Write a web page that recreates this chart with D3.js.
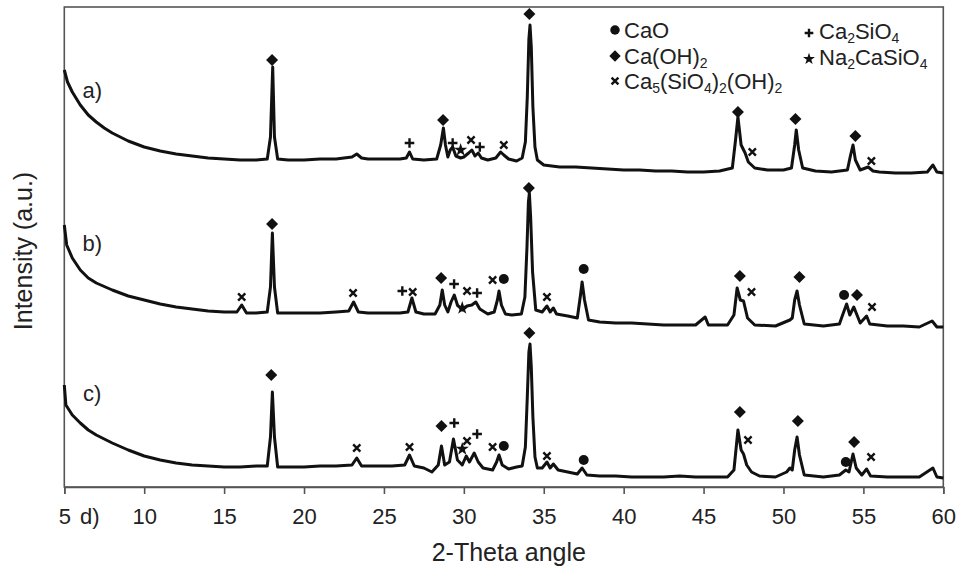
<!DOCTYPE html>
<html>
<head>
<meta charset="utf-8">
<script src="https://cdn.jsdelivr.net/npm/d3@7"></script>
<style>
  html, body { margin: 0; padding: 0; background: #fff; }
  svg { display: block; font-family: "Liberation Sans", Arial, sans-serif; }
</style>
</head>
<body>
<svg id="chart" width="962" height="572"></svg>
<script>
// ---------- DATA (2-theta angle in degrees, intensity in a.u.) ----------
const xTicks = [5, 10, 15, 20, 25, 30, 35, 40, 45, 50, 55, 60];

const traceA = [
  [5.0,417],[5.2,405],[5.5,395],[6.0,382],[6.5,372],[7.0,365],[7.5,359],[8.0,354],[9.0,346],[10.0,340],
  [11.0,336],[12.0,333],[13.0,331],[14.0,329],[15.0,328],[16.0,327],[17.0,327],[17.7,328],[17.9,350],[18.04,420],
  [18.15,350],[18.35,328],[19,327],[20,327],[21,328],[22,328],[23,330],[23.3,333],[23.6,329],[24,328],
  [25,328],[26,328],[26.4,329],[26.6,335],[26.8,328],[27.5,327],[28.3,328],[28.55,342],[28.72,359],[28.85,342],
  [29.0,330],[29.15,337],[29.3,340],[29.5,331],[29.8,329],[30.0,330],[30.3,334],[30.5,337],[30.7,331],[30.9,334],
  [31.1,329],[31.5,327],[32.0,329],[32.3,335],[32.5,332],[32.8,328],[33.3,326],[33.65,329],[33.85,345],[33.97,390],
  [34.07,448],[34.14,462],[34.22,440],[34.32,380],[34.45,340],[34.6,327],[35,322],[36,320],[37,320],[38,319],
  [39,318],[40,317],[41,317],[42,316],[43,316],[44,315],[45,315],[46,316],[46.8,319],[47.0,347],
  [47.15,370],[47.35,342],[47.6,334],[47.8,325],[48.2,319],[49,317],[50,317],[50.5,319],[50.7,342],[50.8,357],
  [50.95,337],[51.2,319],[52,316],[53,315],[54.0,317],[54.2,332],[54.35,342],[54.5,327],[54.8,317],[55.3,320],
  [55.6,316],[56,315],[57,314],[58,314],[59.0,315],[59.35,322],[59.6,315],[60,314]
];

const traceB = [
  [5.0,262],[5.15,242],[5.5,229],[6.0,217],[6.5,209],[7.0,204],[8.0,197],[9.0,191],[10.0,187],[11.0,183],
  [12.0,180],[13.0,178],[14.0,176],[15.0,175],[15.8,175],[16.1,182],[16.4,174],[17.0,174],[17.7,175],[17.9,200],
  [18.02,254],[18.15,200],[18.35,174],[19,174],[20,174],[21,174],[22,175],[22.8,176],[23.1,185],[23.4,175],
  [24,174],[25,174],[26,174],[26.5,175],[26.75,189],[27.0,175],[27.5,173],[28.2,173],[28.5,182],[28.65,197],
  [28.8,182],[29.0,175],[29.2,185],[29.4,192],[29.6,182],[29.9,177],[30.2,181],[30.5,182],[30.75,185],[31.0,178],
  [31.5,173],[31.9,175],[32.1,187],[32.2,196],[32.35,182],[32.6,173],[33.0,172],[33.6,173],[33.82,190],[33.95,240],
  [34.04,285],[34.1,294],[34.18,270],[34.3,215],[34.5,177],[34.9,175],[35.2,181],[35.4,175],[35.6,179],[35.8,173],
  [36.5,171],[37.1,169],[37.3,192],[37.4,205],[37.55,187],[37.8,167],[38.5,165],[39.5,164],[40.5,164],[41.5,163],
  [42.5,162],[43.5,162],[44.5,162],[45.1,170],[45.3,162],[46.5,162],[46.9,172],[47.1,199],[47.3,187],[47.5,186],
  [47.75,169],[48.2,162],[49.5,161],[50.4,167],[50.55,169],[50.7,187],[50.85,196],[51.0,182],[51.3,163],[52.5,161],
  [53.5,163],[53.7,172],[53.95,183],[54.15,172],[54.4,180],[54.6,172],[54.8,164],[55.2,171],[55.4,163],[56.5,161],
  [57.5,161],[58.5,160],[59.3,166],[59.6,160],[60,160]
];

const traceC = [
  [5.0,102],[5.1,82],[5.5,72],[6.0,64],[6.5,57],[7.0,52],[8.0,44],[9.0,37],[10.0,31],[11.0,27],
  [12.0,24],[13.0,22],[14.0,21],[15.0,20],[16.0,20],[17.0,21],[17.7,21],[17.9,50],[18.02,95],[18.15,50],
  [18.35,20],[19,20],[20,20],[21,21],[22,21],[23.0,22],[23.3,29],[23.6,21],[24.5,21],[25.5,21],
  [26.3,22],[26.6,32],[26.9,21],[27.5,19],[28.0,15],[28.4,22],[28.6,41],[28.8,22],[29.1,25],[29.35,48],
  [29.6,27],[29.9,22],[30.15,31],[30.35,25],[30.65,34],[30.9,25],[31.2,19],[31.8,17],[32.05,25],[32.2,32],
  [32.4,22],[32.8,18],[33.3,20],[33.65,21],[33.85,40],[33.97,90],[34.07,135],[34.14,143],[34.22,120],[34.32,70],
  [34.45,30],[34.6,19],[34.9,19],[35.2,25],[35.4,19],[35.6,23],[35.9,17],[36.5,15],[37.1,13],[37.4,19],
  [37.7,12],[38.5,11],[39.5,11],[40.5,10],[41.5,10],[42.5,10],[43.5,11],[44.5,10],[45.5,10],[46.5,10],
  [46.9,17],[47.15,57],[47.35,37],[47.5,33],[47.7,22],[48.0,15],[48.5,11],[49.5,10],[50.2,15],[50.4,19],
  [50.55,17],[50.7,37],[50.85,50],[51.0,32],[51.3,12],[52.5,10],[53.5,12],[53.9,17],[54.1,15],[54.35,33],
  [54.55,19],[54.9,12],[55.2,18],[55.45,11],[56.5,10],[57.5,10],[58.5,10],[59.35,19],[59.6,10],[60,9]
];

// phase markers: [phase, angle, intensity]
const markersA = [
  ["Ca(OH)2",18.0,427],["Ca2SiO4",26.6,344],["Ca(OH)2",28.7,367],["Ca2SiO4",29.3,344],["Na2CaSiO4",29.8,337],
  ["Ca5",30.45,347],["Ca2SiO4",31.0,340],["Ca5",32.5,342],["Ca(OH)2",34.1,473],["Ca(OH)2",47.15,375],
  ["Ca5",48.05,335],["Ca(OH)2",50.75,368],["Ca(OH)2",54.5,351],["Ca5",55.5,326]
];
const markersB = [
  ["Ca5",16.1,190],["Ca(OH)2",18.0,263],["Ca5",23.07,194],["Ca2SiO4",26.15,196],["Ca5",26.8,195],
  ["Ca(OH)2",28.58,209],["Ca2SiO4",29.39,203],["Na2CaSiO4",29.9,179],["Ca5",30.2,196],["Ca2SiO4",30.83,194],
  ["Ca5",31.8,207],["CaO",32.5,208],["Ca(OH)2",34.07,299],["Ca5",35.2,190],["CaO",37.5,218],
  ["Ca(OH)2",47.27,211],["Ca5",48.0,195],["Ca(OH)2",51.0,210],["CaO",53.79,192],["Ca(OH)2",54.6,192],["Ca5",55.54,180]
];
const markersC = [
  ["Ca(OH)2",17.95,112],["Ca5",23.3,39],["Ca5",26.6,40],["Ca(OH)2",28.6,61],["Ca2SiO4",29.4,64],
  ["Na2CaSiO4",29.9,38],["Ca5",30.2,46],["Ca2SiO4",30.83,53],["Ca5",31.8,40],["CaO",32.5,41],
  ["Ca(OH)2",34.1,154],["Ca5",35.2,31],["CaO",37.5,27],["Ca(OH)2",47.27,75],["Ca5",47.78,47],
  ["Ca(OH)2",50.9,66],["CaO",53.9,25],["Ca(OH)2",54.42,45],["Ca5",55.48,30]
];

const traceLabels = ["a)", "b)", "c)"];

// legend entries: phase key and label parts [text, isSubscript]
const legendCol1 = [
  ["CaO", [["CaO",0]]],
  ["Ca(OH)2", [["Ca(OH)",0],["2",1]]],
  ["Ca5", [["Ca",0],["5",1],["(SiO",0],["4",1],[")",0],["2",1],["(OH)",0],["2",1]]]
];
const legendCol2 = [
  ["Ca2SiO4", [["Ca",0],["2",1],["SiO",0],["4",1]]],
  ["Na2CaSiO4", [["Na",0],["2",1],["CaSiO",0],["4",1]]]
];

// ---------- DRAWING ----------
const svg = d3.select("#chart");
const W = 962, H = 572;
const margin = {left: 64.3, right: 962 - 943.3, top: 7, bottom: 572 - 487};

const x = d3.scaleLinear().domain([5, 60]).range([margin.left, W - margin.right]);
const y = d3.scaleLinear().domain([0, 480]).range([H - margin.bottom, margin.top]);

const ink = "#111";
const frameCol = "#555";

// frame
svg.append("rect")
  .attr("x", x(5)).attr("y", y(480))
  .attr("width", x(60) - x(5)).attr("height", y(0) - y(480))
  .attr("fill", "none").attr("stroke", frameCol).attr("stroke-width", 1.6);

// x axis
const xAxis = d3.axisBottom(x).tickValues(xTicks).tickSize(7).tickPadding(14).tickFormat(d3.format("d"));
const gx = svg.append("g").attr("transform", `translate(0,${y(0)})`).call(xAxis);
gx.select(".domain").attr("stroke", frameCol).attr("stroke-width", 1.6);
gx.selectAll(".tick line").attr("stroke", frameCol).attr("stroke-width", 1.6);
gx.selectAll(".tick text").attr("font-size", 22).attr("fill", "#222")
  .attr("font-family", "'Liberation Sans', Arial, sans-serif");

// "d)" next to 5, same baseline as tick labels
svg.append("text").attr("x", x(6.6)).attr("y", y(0) + 7 + 14).attr("dy", "0.71em")
  .attr("text-anchor", "middle").attr("font-size", 22).attr("fill", "#222").text("d)");

// axis titles
svg.append("text").attr("x", (x(5) + x(60)) / 2 + 5).attr("y", 561)
  .attr("text-anchor", "middle").attr("font-size", 25).attr("fill", "#222").text("2-Theta angle");
svg.append("text").attr("transform", `translate(32,251) rotate(-90)`)
  .attr("text-anchor", "middle").attr("font-size", 25).attr("fill", "#222").text("Intensity (a.u.)");

// traces
const line = d3.line().x(d => x(d[0])).y(d => y(d[1]));
[traceA, traceB, traceC].forEach(t => {
  svg.append("path").datum(t).attr("d", line)
    .attr("fill", "none").attr("stroke", ink).attr("stroke-width", 3)
    .attr("stroke-linejoin", "round");
});

// trace labels
const labelPos = [[6.75, 397], [6.75, 244], [6.75, 94]];
traceLabels.forEach((t, i) => {
  svg.append("text").attr("x", x(labelPos[i][0])).attr("y", y(labelPos[i][1]))
    .attr("text-anchor", "middle").attr("dominant-baseline", "central")
    .attr("font-size", 22).attr("fill", "#222").text(t);
});

// marker glyphs
function glyph(g, phase, cx, cy, s) {
  s = s || 1;
  if (phase === "Ca(OH)2") {
    g.append("path").attr("d", `M${cx},${cy - 6 * s}L${cx + 6 * s},${cy}L${cx},${cy + 6 * s}L${cx - 6 * s},${cy}Z`).attr("fill", ink);
  } else if (phase === "CaO") {
    g.append("circle").attr("cx", cx).attr("cy", cy).attr("r", 5 * s).attr("fill", ink);
  } else if (phase === "Ca5") {
    const r = 3.6 * s;
    g.append("path").attr("d", `M${cx - r},${cy - r}L${cx + r},${cy + r}M${cx - r},${cy + r}L${cx + r},${cy - r}`)
      .attr("stroke", ink).attr("stroke-width", 2.4).attr("fill", "none");
  } else if (phase === "Ca2SiO4") {
    const r = 4.8 * s;
    g.append("path").attr("d", `M${cx - r},${cy}L${cx + r},${cy}M${cx},${cy - r}L${cx},${cy + r}`)
      .attr("stroke", ink).attr("stroke-width", 2.4).attr("fill", "none");
  } else if (phase === "Na2CaSiO4") {
    g.append("path").attr("d", d3.symbol().type(d3.symbolStar).size(55 * s * s)())
      .attr("transform", `translate(${cx},${cy})`).attr("fill", ink);
  }
}

const gm = svg.append("g");
[markersA, markersB, markersC].forEach(ms => {
  ms.forEach(m => glyph(gm, m[0], x(m[1]), y(m[2])));
});

// legend
const gl = svg.append("g").attr("font-size", 22).attr("fill", "#222");
function legendText(tx, ty, parts) {
  const t = gl.append("text").attr("x", tx).attr("y", ty);
  parts.forEach((p, i) => {
    const prev = i > 0 ? parts[i - 1][1] : 0;
    const ts = t.append("tspan").text(p[0])
      .attr("dy", p[1] && !prev ? 4 : (!p[1] && prev ? -4 : 0));
    if (p[1]) ts.attr("font-size", 14);
  });
}
const col1Y = [30, 56, 81];
legendCol1.forEach((e, i) => {
  glyph(gl, e[0], 615, col1Y[i], 0.95);
  legendText(624, col1Y[i] + 8, e[1]);
});
const col2Y = [31, 57];
legendCol2.forEach((e, i) => {
  glyph(gl, e[0], 809, col2Y[i] + 2, 0.9);
  legendText(819, col2Y[i] + 8, e[1]);
});
</script>
</body>
</html>
